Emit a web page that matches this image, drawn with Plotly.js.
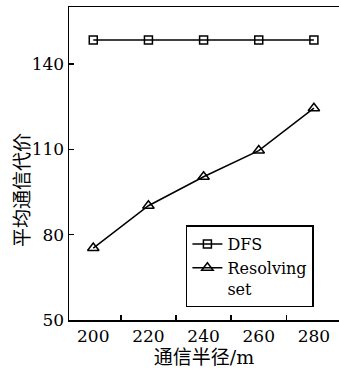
<!DOCTYPE html>
<html>
<head>
<meta charset="utf-8">
<script src="https://cdn.plot.ly/plotly-3.0.1.min.js"></script>
<style>html,body{margin:0;padding:0;background:#fff;overflow:hidden}#chart{width:339px;height:370px}</style>
</head>
<body>
<div id="chart"></div>
<script>
const radius = [200, 220, 240, 260, 280];
const dfsCost = [148.5, 148.5, 148.5, 148.5, 148.5];
const resolvingCost = [75.3, 90.2, 100.4, 109.6, 124.5];
const seriesNames = ['DFS', 'Resolving<br>set'];
const xTitle = '通信半径/m';
const yTitle = '平均通信代价';
const yTicks = [50, 80, 110, 140];

const FONT = 'DejaVu Serif, serif';
const CJK = 'DejaVu Serif, Noto Sans CJK SC, serif';

const traces = [
  {
    x: radius, y: dfsCost, name: seriesNames[0], type: 'scatter', mode: 'lines+markers',
    line: {color: '#000', width: 1.5},
    marker: {symbol: 'square-open', size: 8, color: '#000', line: {width: 1.5, color: '#000'}}
  },
  {
    x: radius, y: resolvingCost, name: seriesNames[1], type: 'scatter', mode: 'lines+markers',
    line: {color: '#000', width: 1.5},
    marker: {symbol: 'triangle-up-open', size: 10, color: '#000', line: {width: 1.5, color: '#000'}}
  }
];

const layout = {
  width: 339, height: 370,
  margin: {l: 69, r: 0, t: 7, b: 50},
  paper_bgcolor: '#fff', plot_bgcolor: '#fff',
  font: {family: FONT, size: 17, color: '#000'},
  showlegend: true,
  legend: {
    x: 0.433, y: 0.04, xanchor: 'left', yanchor: 'bottom',
    bgcolor: '#fff', bordercolor: '#000', borderwidth: 1.5,
    font: {family: FONT, size: 16, color: '#000'},
    valign: 'top', tracegroupgap: 0, itemwidth: 30
  },
  xaxis: {
    range: [191.2, 289.1],
    tickvals: radius, ticktext: radius.map(String),
    ticks: '', showgrid: false, zeroline: false,
    showline: true, linecolor: '#000', linewidth: 1.5, mirror: true,
    minor: {ticks: 'inside', tick0: 210, dtick: 20, ticklen: 5, tickwidth: 1.5, tickcolor: '#000', showgrid: false},
    tickfont: {family: FONT, size: 17, color: '#000'},
    title: {text: xTitle, font: {family: CJK, size: 19, color: '#000'}, standoff: 5}
  },
  yaxis: {
    range: [50, 160.1],
    tickvals: yTicks,
    ticks: 'inside', ticklen: 5, tickwidth: 1.5, tickcolor: '#000',
    showgrid: false, zeroline: false,
    showline: true, linecolor: '#000', linewidth: 1.5, mirror: false,
    tickfont: {family: FONT, size: 17, color: '#000'}
  },
  annotations: [{
    text: yTitle, textangle: -90, showarrow: false,
    xref: 'paper', yref: 'paper',
    x: (22 - 69) / 270, y: (320 - 190) / 313,
    xanchor: 'center', yanchor: 'middle',
    font: {family: CJK, size: 19, color: '#000'}
  }]
};

Plotly.newPlot('chart', traces, layout, {displayModeBar: false, staticPlot: true});
</script>
</body>
</html>
